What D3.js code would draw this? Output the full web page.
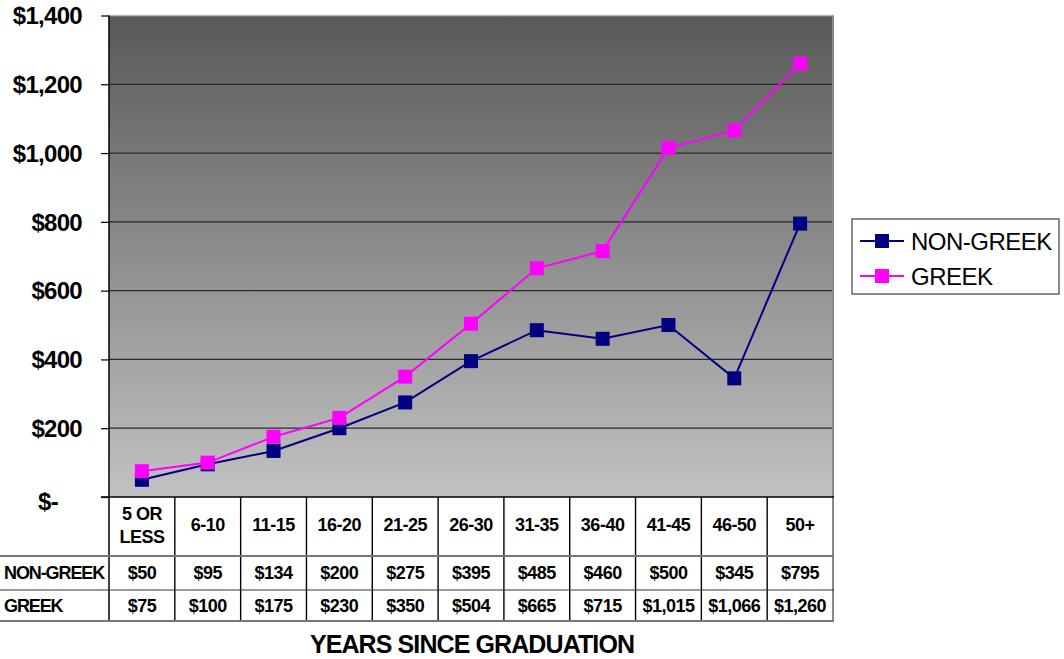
<!DOCTYPE html>
<html>
<head>
<meta charset="utf-8">
<script src="https://cdn.jsdelivr.net/npm/d3@7"></script>
<style>
  html, body { margin: 0; padding: 0; background: #fff; }
  svg { display: block; font-family: "Liberation Sans", Arial, sans-serif; }
</style>
</head>
<body>
<svg id="chart" width="1064" height="659"></svg>
<script>
// Average gift by years since graduation
const categories = ["5 OR LESS", "6-10", "11-15", "16-20", "21-25", "26-30", "31-35", "36-40", "41-45", "46-50", "50+"];
const nonGreek = [50, 95, 134, 200, 275, 395, 485, 460, 500, 345, 795];
const greek = [75, 100, 175, 230, 350, 504, 665, 715, 1015, 1066, 1260];
const yTicks = [0, 200, 400, 600, 800, 1000, 1200, 1400];
const seriesNames = ["NON-GREEK", "GREEK"];
const seriesColors = ["#000080", "#ff00ff"];
const axisTitle = "YEARS SINCE GRADUATION";

const series = [
  { name: seriesNames[0], values: nonGreek, color: seriesColors[0] },
  { name: seriesNames[1], values: greek, color: seriesColors[1] }
];

const svg = d3.select("#chart");
const plot = { left: 109, right: 833, top: 15.5, bottom: 497 };
const table = { row1: 556, row2: 590, row3: 621 };

const x = d3.scaleBand().domain(categories).range([plot.left, plot.right]).padding(0);
const y = d3.scaleLinear().domain([0, 1400]).range([plot.bottom, plot.top]);
const cx = c => x(c) + x.bandwidth() / 2;

const money = d3.format("$,");
const fmt = v => v === 0 ? "$-" : money(v);

// Plot background gradient
const defs = svg.append("defs");
const grad = defs.append("linearGradient").attr("id", "bg")
  .attr("x1", 0).attr("y1", 0).attr("x2", 0).attr("y2", 1);
grad.append("stop").attr("offset", "0%").attr("stop-color", "#595959");
grad.append("stop").attr("offset", "100%").attr("stop-color", "#c2c2c2");

svg.append("rect")
  .attr("x", plot.left).attr("y", plot.top)
  .attr("width", plot.right - plot.left).attr("height", plot.bottom - plot.top)
  .attr("fill", "url(#bg)");

// Gridlines
svg.append("g").selectAll("line")
  .data(yTicks.filter(t => t > 0 && t < 1400))
  .join("line")
  .attr("x1", plot.left).attr("x2", plot.right)
  .attr("y1", d => y(d)).attr("y2", d => y(d))
  .attr("stroke", "#2a2a2a").attr("stroke-width", 1.3);

// Plot border (top light, right gray)
svg.append("line").attr("x1", plot.left).attr("x2", plot.right + 1)
  .attr("y1", plot.top).attr("y2", plot.top)
  .attr("stroke", "#b8b8b8").attr("stroke-width", 1.5);
svg.append("line").attr("x1", plot.right).attr("x2", plot.right)
  .attr("y1", plot.top).attr("y2", table.row3)
  .attr("stroke", "#888").attr("stroke-width", 2);

// Y axis
const yAxis = d3.axisLeft(y).tickValues(yTicks).tickFormat(fmt)
  .tickSize(8).tickPadding(19);
const yg = svg.append("g").attr("transform", `translate(${plot.left},0)`).call(yAxis);
yg.select(".domain").remove();
yg.selectAll(".tick line").attr("stroke", "#000").attr("stroke-width", 1.2);
yg.append("line").attr("x1", 0).attr("x2", 0)
  .attr("y1", plot.top).attr("y2", table.row3)
  .attr("stroke", "#000").attr("stroke-width", 1.5);
yg.selectAll(".tick text")
  .attr("fill", "#000")
  .style("font-size", "24px").style("font-weight", "bold")
  .style("letter-spacing", "-0.7px")
  .attr("dx", d => d === 0 ? -24 : 0)
  .attr("dy", d => d === 0 ? "0.5em" : "0.34em");

// Category axis line
svg.append("line").attr("x1", plot.left - 8).attr("x2", plot.right + 1)
  .attr("y1", plot.bottom).attr("y2", plot.bottom)
  .attr("stroke", "#000").attr("stroke-width", 1.5);

// Data table
const tg = svg.append("g");
tg.selectAll("line.col")
  .data(categories.slice(1))
  .join("line").attr("class", "col")
  .attr("x1", d => x(d)).attr("x2", d => x(d))
  .attr("y1", plot.bottom).attr("y2", table.row3)
  .attr("stroke", "#000").attr("stroke-width", 1.4);
tg.append("line").attr("x1", 0).attr("x2", plot.right + 1)
  .attr("y1", table.row1).attr("y2", table.row1).attr("stroke", "#777").attr("stroke-width", 2);
tg.append("line").attr("x1", 0).attr("x2", plot.right + 1)
  .attr("y1", table.row2).attr("y2", table.row2).attr("stroke", "#333").attr("stroke-width", 1.2);
tg.append("line").attr("x1", 0).attr("x2", plot.right + 1)
  .attr("y1", table.row3).attr("y2", table.row3).attr("stroke", "#777").attr("stroke-width", 2);

const cellFont = sel => sel.attr("fill", "#000").attr("text-anchor", "middle")
  .style("font-size", "18px").style("font-weight", "bold").style("letter-spacing", "-0.5px");

// Header cells (wrap two-word category)
tg.selectAll("text.head")
  .data(categories)
  .join("text").attr("class", "head")
  .call(cellFont)
  .each(function (d) {
    const parts = d === "5 OR LESS" ? ["5 OR", "LESS"] : [d];
    const t = d3.select(this);
    const y0 = parts.length === 2 ? 520 : 531;
    parts.forEach((p, i) => {
      t.append("tspan").attr("x", cx(d)).attr("y", y0 + i * 23).text(p);
    });
  });

const rowY = [579, 612];
series.forEach((s, si) => {
  tg.selectAll(`text.v${si}`)
    .data(s.values)
    .join("text").attr("class", `v${si}`)
    .call(cellFont)
    .attr("x", (d, i) => cx(categories[i]))
    .attr("y", rowY[si])
    .text(d => fmt(d));
  tg.append("text")
    .attr("x", 4).attr("y", rowY[si])
    .attr("fill", "#000")
    .style("font-size", "18px").style("font-weight", "bold").style("letter-spacing", "-1.1px")
    .text(s.name);
});

// Axis title
svg.append("text")
  .attr("x", (plot.left + plot.right) / 2 + 1).attr("y", 653)
  .attr("text-anchor", "middle").attr("fill", "#000")
  .style("font-size", "25px").style("font-weight", "bold").style("letter-spacing", "-0.9px")
  .text(axisTitle);

// Series lines and markers
const line = d3.line().x((d, i) => cx(categories[i])).y(d => y(d));
const ms = 14;
series.forEach(s => {
  const g = svg.append("g");
  g.append("path").datum(s.values)
    .attr("d", line).attr("fill", "none")
    .attr("stroke", s.color).attr("stroke-width", 2);
  g.selectAll("rect").data(s.values).join("rect")
    .attr("x", (d, i) => cx(categories[i]) - ms / 2)
    .attr("y", d => y(d) - ms / 2)
    .attr("width", ms).attr("height", ms)
    .attr("fill", s.color);
});

// Legend
const lg = svg.append("g");
lg.append("rect").attr("x", 852).attr("y", 219).attr("width", 207).attr("height", 75)
  .attr("fill", "#fff").attr("stroke", "#666").attr("stroke-width", 1.5);
series.forEach((s, i) => {
  const ly = 241 + i * 35;
  lg.append("line").attr("x1", 860).attr("x2", 904).attr("y1", ly).attr("y2", ly)
    .attr("stroke", s.color).attr("stroke-width", 2);
  lg.append("rect").attr("x", 882 - ms / 2).attr("y", ly - ms / 2)
    .attr("width", ms).attr("height", ms).attr("fill", s.color);
  lg.append("text").attr("x", 911).attr("y", ly + 8.5)
    .attr("fill", "#000")
    .style("font-size", "24px").style("letter-spacing", "-0.5px")
    .text(s.name);
});
</script>
</body>
</html>
